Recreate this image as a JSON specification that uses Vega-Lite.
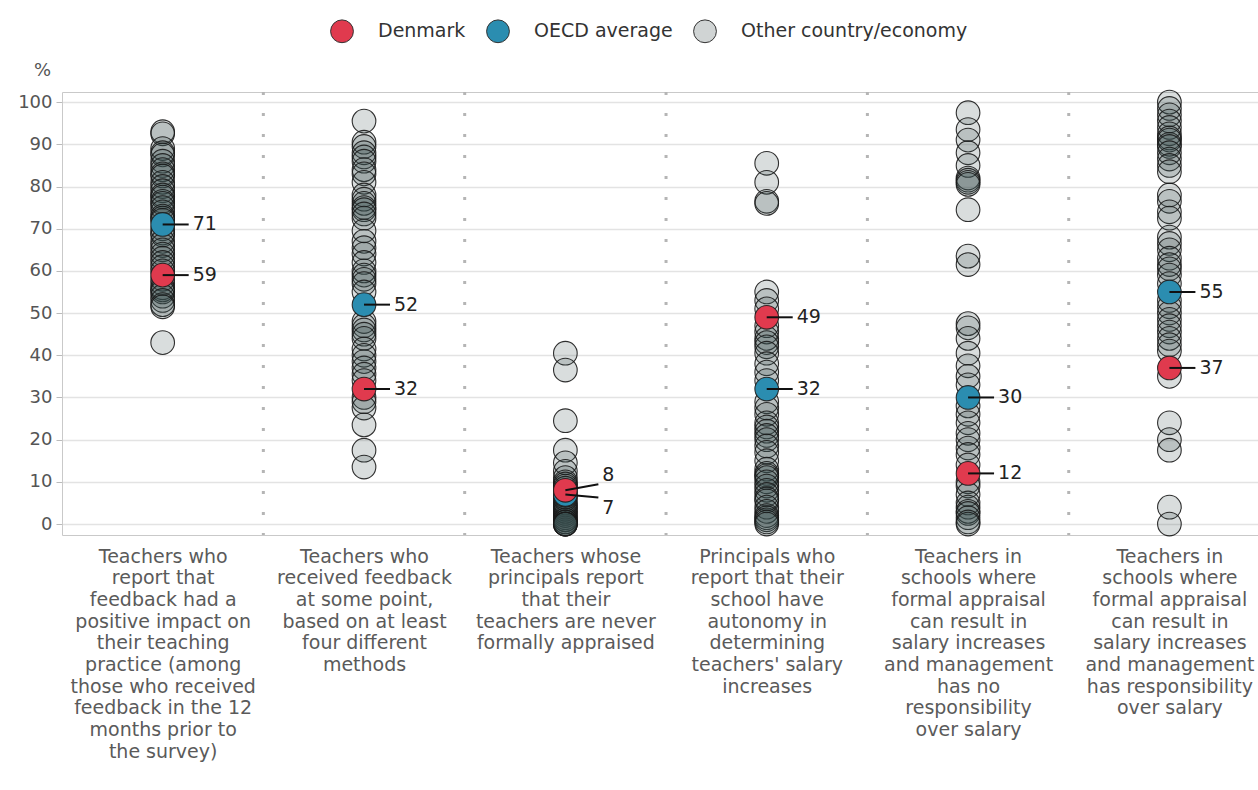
{
  "$schema": "https://vega.github.io/schema/vega-lite/v6.json",
  "autosize": "none",
  "padding": {"left": 62, "top": 92, "right": 0, "bottom": 255},
  "width": 1196,
  "height": 443,
  "config": {
    "view": {"stroke": "#c9c9c9", "strokeWidth": 1},
    "font": "DejaVu Sans"
  },
  "datasets": {
    "seps": [{"cat": 1.5}, {"cat": 2.5}, {"cat": 3.5}, {"cat": 4.5}, {"cat": 5.5}],
    "highlight": [
      {"cat": 1, "group": "OECD average", "v": 71},
      {"cat": 2, "group": "OECD average", "v": 52},
      {"cat": 3, "group": "OECD average", "v": 7},
      {"cat": 4, "group": "OECD average", "v": 32},
      {"cat": 5, "group": "OECD average", "v": 30},
      {"cat": 6, "group": "OECD average", "v": 55},
      {"cat": 1, "group": "Denmark", "v": 59},
      {"cat": 2, "group": "Denmark", "v": 32},
      {"cat": 3, "group": "Denmark", "v": 8},
      {"cat": 4, "group": "Denmark", "v": 49},
      {"cat": 5, "group": "Denmark", "v": 12},
      {"cat": 6, "group": "Denmark", "v": 37}
    ],
    "others": [
      {"cat": 1, "v": 93}, {"cat": 1, "v": 92.5}, {"cat": 1, "v": 89}, {"cat": 1, "v": 88}, {"cat": 1, "v": 87.5}, {"cat": 1, "v": 86}, {"cat": 1, "v": 85}, {"cat": 1, "v": 84}, {"cat": 1, "v": 83}, {"cat": 1, "v": 82.5}, {"cat": 1, "v": 81}, {"cat": 1, "v": 80}, {"cat": 1, "v": 79}, {"cat": 1, "v": 78}, {"cat": 1, "v": 77.5}, {"cat": 1, "v": 76.5}, {"cat": 1, "v": 76}, {"cat": 1, "v": 75}, {"cat": 1, "v": 74}, {"cat": 1, "v": 73}, {"cat": 1, "v": 72.5}, {"cat": 1, "v": 72}, {"cat": 1, "v": 70}, {"cat": 1, "v": 69}, {"cat": 1, "v": 68.5}, {"cat": 1, "v": 67}, {"cat": 1, "v": 66}, {"cat": 1, "v": 65}, {"cat": 1, "v": 64}, {"cat": 1, "v": 63}, {"cat": 1, "v": 62}, {"cat": 1, "v": 61}, {"cat": 1, "v": 60}, {"cat": 1, "v": 58}, {"cat": 1, "v": 57}, {"cat": 1, "v": 56}, {"cat": 1, "v": 55.5}, {"cat": 1, "v": 55}, {"cat": 1, "v": 54}, {"cat": 1, "v": 53}, {"cat": 1, "v": 52}, {"cat": 1, "v": 51.5}, {"cat": 1, "v": 43},
      {"cat": 2, "v": 95.5}, {"cat": 2, "v": 90.5}, {"cat": 2, "v": 89.5}, {"cat": 2, "v": 88}, {"cat": 2, "v": 87}, {"cat": 2, "v": 86}, {"cat": 2, "v": 84}, {"cat": 2, "v": 83}, {"cat": 2, "v": 81}, {"cat": 2, "v": 78}, {"cat": 2, "v": 77}, {"cat": 2, "v": 76}, {"cat": 2, "v": 75}, {"cat": 2, "v": 74.5}, {"cat": 2, "v": 73.5}, {"cat": 2, "v": 72.5}, {"cat": 2, "v": 69.5}, {"cat": 2, "v": 67}, {"cat": 2, "v": 65.5}, {"cat": 2, "v": 64}, {"cat": 2, "v": 62}, {"cat": 2, "v": 60}, {"cat": 2, "v": 59}, {"cat": 2, "v": 58}, {"cat": 2, "v": 57}, {"cat": 2, "v": 55}, {"cat": 2, "v": 48}, {"cat": 2, "v": 47}, {"cat": 2, "v": 46}, {"cat": 2, "v": 45}, {"cat": 2, "v": 44}, {"cat": 2, "v": 41.5}, {"cat": 2, "v": 40}, {"cat": 2, "v": 38.5}, {"cat": 2, "v": 37}, {"cat": 2, "v": 35.5}, {"cat": 2, "v": 34}, {"cat": 2, "v": 30}, {"cat": 2, "v": 29}, {"cat": 2, "v": 27.5}, {"cat": 2, "v": 23.5}, {"cat": 2, "v": 17.5}, {"cat": 2, "v": 13.5},
      {"cat": 3, "v": 40.5}, {"cat": 3, "v": 36.5}, {"cat": 3, "v": 24.5}, {"cat": 3, "v": 17.5}, {"cat": 3, "v": 14.5}, {"cat": 3, "v": 12.5}, {"cat": 3, "v": 11}, {"cat": 3, "v": 10}, {"cat": 3, "v": 9.5}, {"cat": 3, "v": 9}, {"cat": 3, "v": 8.5}, {"cat": 3, "v": 7.5}, {"cat": 3, "v": 6.5}, {"cat": 3, "v": 6}, {"cat": 3, "v": 5}, {"cat": 3, "v": 4.5}, {"cat": 3, "v": 4}, {"cat": 3, "v": 3.5}, {"cat": 3, "v": 3}, {"cat": 3, "v": 2.5}, {"cat": 3, "v": 2}, {"cat": 3, "v": 1.5}, {"cat": 3, "v": 1}, {"cat": 3, "v": 1}, {"cat": 3, "v": 0.5}, {"cat": 3, "v": 0.5}, {"cat": 3, "v": 0}, {"cat": 3, "v": 0}, {"cat": 3, "v": 0}, {"cat": 3, "v": 0},
      {"cat": 4, "v": 85.5}, {"cat": 4, "v": 81}, {"cat": 4, "v": 76.5}, {"cat": 4, "v": 76}, {"cat": 4, "v": 55}, {"cat": 4, "v": 53}, {"cat": 4, "v": 51}, {"cat": 4, "v": 47}, {"cat": 4, "v": 45.5}, {"cat": 4, "v": 44}, {"cat": 4, "v": 43}, {"cat": 4, "v": 42}, {"cat": 4, "v": 40.5}, {"cat": 4, "v": 38}, {"cat": 4, "v": 36}, {"cat": 4, "v": 34}, {"cat": 4, "v": 29}, {"cat": 4, "v": 27.5}, {"cat": 4, "v": 26}, {"cat": 4, "v": 24}, {"cat": 4, "v": 23}, {"cat": 4, "v": 22}, {"cat": 4, "v": 21}, {"cat": 4, "v": 20}, {"cat": 4, "v": 18.5}, {"cat": 4, "v": 17}, {"cat": 4, "v": 15}, {"cat": 4, "v": 13}, {"cat": 4, "v": 12}, {"cat": 4, "v": 11.5}, {"cat": 4, "v": 11}, {"cat": 4, "v": 10}, {"cat": 4, "v": 9}, {"cat": 4, "v": 8}, {"cat": 4, "v": 7}, {"cat": 4, "v": 6}, {"cat": 4, "v": 5.5}, {"cat": 4, "v": 4}, {"cat": 4, "v": 3}, {"cat": 4, "v": 2}, {"cat": 4, "v": 1.5}, {"cat": 4, "v": 1}, {"cat": 4, "v": 0.5}, {"cat": 4, "v": 0},
      {"cat": 5, "v": 97.5}, {"cat": 5, "v": 93.5}, {"cat": 5, "v": 91}, {"cat": 5, "v": 88}, {"cat": 5, "v": 85}, {"cat": 5, "v": 82}, {"cat": 5, "v": 81.5}, {"cat": 5, "v": 81}, {"cat": 5, "v": 80.5}, {"cat": 5, "v": 74.5}, {"cat": 5, "v": 63.5}, {"cat": 5, "v": 61.5}, {"cat": 5, "v": 47.5}, {"cat": 5, "v": 46.5}, {"cat": 5, "v": 44}, {"cat": 5, "v": 40.5}, {"cat": 5, "v": 37.5}, {"cat": 5, "v": 35}, {"cat": 5, "v": 33}, {"cat": 5, "v": 28}, {"cat": 5, "v": 26}, {"cat": 5, "v": 24}, {"cat": 5, "v": 21.5}, {"cat": 5, "v": 20}, {"cat": 5, "v": 18}, {"cat": 5, "v": 16.5}, {"cat": 5, "v": 14}, {"cat": 5, "v": 10}, {"cat": 5, "v": 9}, {"cat": 5, "v": 7}, {"cat": 5, "v": 5}, {"cat": 5, "v": 4}, {"cat": 5, "v": 3}, {"cat": 5, "v": 2.5}, {"cat": 5, "v": 1.5}, {"cat": 5, "v": 0.5}, {"cat": 5, "v": 0},
      {"cat": 6, "v": 100}, {"cat": 6, "v": 98.5}, {"cat": 6, "v": 97}, {"cat": 6, "v": 95.5}, {"cat": 6, "v": 94}, {"cat": 6, "v": 92.5}, {"cat": 6, "v": 91.5}, {"cat": 6, "v": 91}, {"cat": 6, "v": 90}, {"cat": 6, "v": 89.5}, {"cat": 6, "v": 88}, {"cat": 6, "v": 86.5}, {"cat": 6, "v": 85}, {"cat": 6, "v": 83.5}, {"cat": 6, "v": 78}, {"cat": 6, "v": 76.5}, {"cat": 6, "v": 74}, {"cat": 6, "v": 72.5}, {"cat": 6, "v": 68}, {"cat": 6, "v": 66.5}, {"cat": 6, "v": 65}, {"cat": 6, "v": 63}, {"cat": 6, "v": 61.5}, {"cat": 6, "v": 60.5}, {"cat": 6, "v": 59}, {"cat": 6, "v": 57}, {"cat": 6, "v": 53}, {"cat": 6, "v": 51.5}, {"cat": 6, "v": 50}, {"cat": 6, "v": 48.5}, {"cat": 6, "v": 47}, {"cat": 6, "v": 45.5}, {"cat": 6, "v": 44}, {"cat": 6, "v": 42.5}, {"cat": 6, "v": 41}, {"cat": 6, "v": 35}, {"cat": 6, "v": 24}, {"cat": 6, "v": 20}, {"cat": 6, "v": 17.5}, {"cat": 6, "v": 4}, {"cat": 6, "v": 0}
    ]
  },
  "layer": [
    {
      "data": {"name": "seps"},
      "mark": {"type": "rule", "strokeDash": [3, 18], "strokeWidth": 3, "color": "#b5b5b5"},
      "encoding": {
        "x": {
          "field": "cat", "type": "quantitative",
          "scale": {"domain": [0.5, 6.44], "nice": false, "zero": false},
          "axis": {
            "title": null,
            "values": [1, 2, 3, 4, 5, 6],
            "labelExpr": "split([\"Teachers who|report that|feedback had a|positive impact on|their teaching|practice (among|those who received|feedback in the 12|months prior to|the survey)\", \"Teachers who|received feedback|at some point,|based on at least|four different|methods\", \"Teachers whose|principals report|that their|teachers are never|formally appraised\", \"Principals who|report that their|school have|autonomy in|determining|teachers' salary|increases\", \"Teachers in|schools where|formal appraisal|can result in|salary increases|and management|has no|responsibility|over salary\", \"Teachers in|schools where|formal appraisal|can result in|salary increases|and management|has responsibility|over salary\"][datum.value - 1], '|')",
            "grid": false, "ticks": false, "domain": false,
            "labelFontSize": 19, "labelColor": "#5a5a5a",
            "labelAlign": "center", "labelBaseline": "top",
            "labelLineHeight": 21.7, "labelPadding": 12, "labelLimit": 0,
            "labelOverlap": false, "labelFlush": false, "labelBound": false
          }
        }
      }
    },
    {
      "data": {"name": "others"},
      "mark": {"type": "circle", "size": 560, "fill": "#364848", "fillOpacity": 0.19, "stroke": "#1a1a1a", "strokeWidth": 1.1, "strokeOpacity": 0.9},
      "encoding": {
        "x": {"field": "cat", "type": "quantitative", "axis": {"title": null}},
        "y": {
          "field": "v", "type": "quantitative", "title": "%",
          "scale": {"domain": [-2.6, 102.4], "nice": false, "zero": false},
          "axis": {
            "values": [0, 10, 20, 30, 40, 50, 60, 70, 80, 90, 100],
            "grid": true, "gridColor": "#e3e3e3", "gridWidth": 1.5,
            "domain": false, "tickColor": "#bbbbbb", "tickSize": 6,
            "labelFontSize": 18, "labelColor": "#555555", "labelPadding": 4,
            "titleAngle": 0, "titleX": -20, "titleY": -22,
            "titleFontSize": 18, "titleFontWeight": "normal", "titleColor": "#555555",
            "titleAlign": "center", "titleBaseline": "middle"
          }
        }
      }
    },
    {
      "data": {"name": "highlight"},
      "mark": {"type": "circle", "size": 560, "fillOpacity": 1, "stroke": "#1e1e1e", "strokeWidth": 1.1, "strokeOpacity": 0.9},
      "encoding": {
        "x": {"field": "cat", "type": "quantitative", "axis": {"title": null}},
        "y": {"field": "v", "type": "quantitative", "title": "%"},
        "fill": {
          "field": "group", "type": "nominal",
          "scale": {"domain": ["Denmark", "OECD average", "Other country/economy"], "range": ["#e03a4e", "#2b8db0", "#d0d4d4"]},
          "legend": {
            "title": null, "orient": "none", "legendX": 268, "legendY": -73,
            "direction": "horizontal", "symbolType": "circle", "symbolSize": 520,
            "symbolStrokeColor": "#333333", "symbolStrokeWidth": 1, "symbolOpacity": 1,
            "labelFontSize": 19, "labelColor": "#333333", "labelOffset": 24, "labelLimit": 0,
            "columnPadding": 18, "padding": 0
          }
        }
      }
    },
    {
      "data": {"name": "highlight"},
      "transform": [{"filter": "datum.cat != 3"}],
      "mark": {"type": "rule", "x2Offset": 26, "strokeWidth": 2, "color": "#111111"},
      "encoding": {
        "x": {"field": "cat", "type": "quantitative", "axis": {"title": null}},
        "x2": {"field": "cat"},
        "y": {"field": "v", "type": "quantitative", "title": "%"}
      }
    },
    {
      "data": {"name": "highlight"},
      "transform": [{"filter": "datum.cat != 3"}],
      "mark": {"type": "text", "align": "left", "baseline": "middle", "dx": 30, "fontSize": 19, "color": "#222222"},
      "encoding": {
        "x": {"field": "cat", "type": "quantitative", "axis": {"title": null}},
        "y": {"field": "v", "type": "quantitative", "title": "%"},
        "text": {"field": "v", "type": "quantitative", "format": "d"}
      }
    },
    {
      "data": {"name": "highlight"},
      "transform": [{"filter": "datum.cat == 3 && datum.group == 'Denmark'"}],
      "mark": {"type": "rule", "x2Offset": 33, "y2Offset": -6, "strokeWidth": 2, "color": "#111111"},
      "encoding": {
        "x": {"field": "cat", "type": "quantitative", "axis": {"title": null}},
        "x2": {"field": "cat"},
        "y": {"field": "v", "type": "quantitative", "title": "%"},
        "y2": {"field": "v"}
      }
    },
    {
      "data": {"name": "highlight"},
      "transform": [{"filter": "datum.cat == 3 && datum.group == 'OECD average'"}],
      "mark": {"type": "rule", "x2Offset": 33, "y2Offset": 3, "strokeWidth": 2, "color": "#111111"},
      "encoding": {
        "x": {"field": "cat", "type": "quantitative", "axis": {"title": null}},
        "x2": {"field": "cat"},
        "y": {"field": "v", "type": "quantitative", "title": "%"},
        "y2": {"field": "v"}
      }
    },
    {
      "data": {"name": "highlight"},
      "transform": [{"filter": "datum.cat == 3 && datum.group == 'Denmark'"}],
      "mark": {"type": "text", "align": "left", "baseline": "middle", "dx": 37, "dy": -15, "fontSize": 19, "color": "#222222"},
      "encoding": {
        "x": {"field": "cat", "type": "quantitative", "axis": {"title": null}},
        "y": {"field": "v", "type": "quantitative", "title": "%"},
        "text": {"field": "v", "type": "quantitative", "format": "d"}
      }
    },
    {
      "data": {"name": "highlight"},
      "transform": [{"filter": "datum.cat == 3 && datum.group == 'OECD average'"}],
      "mark": {"type": "text", "align": "left", "baseline": "middle", "dx": 37, "dy": 14, "fontSize": 19, "color": "#222222"},
      "encoding": {
        "x": {"field": "cat", "type": "quantitative", "axis": {"title": null}},
        "y": {"field": "v", "type": "quantitative", "title": "%"},
        "text": {"field": "v", "type": "quantitative", "format": "d"}
      }
    }
  ]
}
